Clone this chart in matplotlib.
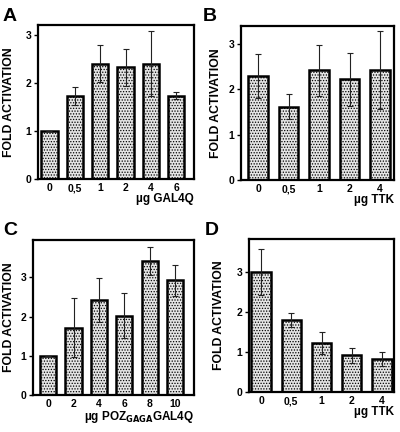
import matplotlib

matplotlib.use("Agg")
import matplotlib.pyplot as plt

plt.rcParams["font.family"] = ["Liberation Sans", "DejaVu Sans"]
plt.rcParams["font.weight"] = "bold"
plt.rcParams["hatch.color"] = "#6a6a6a"
plt.rcParams["hatch.linewidth"] = 0.6

# panel A
a_labels = ["0", "0,5", "1", "2", "4", "6"]
a_values = [1.0, 1.72, 2.4, 2.32, 2.4, 1.73]
a_errors = [0.0, 0.19, 0.38, 0.39, 0.68, 0.07]

# panel B
b_labels = ["0", "0,5", "1", "2", "4"]
b_values = [2.3, 1.62, 2.42, 2.22, 2.42]
b_errors = [0.48, 0.28, 0.57, 0.58, 0.86]

# panel C
c_labels = ["0", "2", "4", "6", "8", "10"]
c_values = [1.0, 1.72, 2.42, 2.02, 3.42, 2.92]
c_errors = [0.0, 0.76, 0.57, 0.57, 0.35, 0.4]

# panel D
d_labels = ["0", "0,5", "1", "2", "4"]
d_values = [3.0, 1.8, 1.22, 0.92, 0.82]
d_errors = [0.57, 0.17, 0.27, 0.19, 0.17]

W, H = 400, 432


def px_axes(fig, left, right, top, bottom):
    return fig.add_axes([left / W, 1 - bottom / H, (right - left) / W, (bottom - top) / H])


def draw_panel(fig, box, labels, values, errors, xlim, ylim, xlabel, letter, ylab_x, letter_xy):
    left, right, top, bottom = box
    ax = px_axes(fig, left, right, top, bottom)
    x = list(range(len(values)))
    ax.bar(x, values, width=0.64, color="#e4e4e4", edgecolor="black",
           linewidth=1.8, hatch="......", zorder=2)
    ax.errorbar(x, values, yerr=errors, fmt="none", ecolor="#222222",
                elinewidth=0.8, capsize=2.5, capthick=0.8, zorder=3)
    ax.set_xlim(*xlim)
    ax.set_ylim(*ylim)
    ax.set_xticks(x)
    ax.set_xticklabels(labels)
    ax.set_yticks([0, 1, 2, 3])
    ax.tick_params(axis="x", length=0, labelsize=7.5, pad=3)
    ax.tick_params(axis="y", length=3, width=1, labelsize=7.5, pad=2)
    for s in ax.spines.values():
        s.set_linewidth(1.6)
    ax.set_ylabel("FOLD ACTIVATION", fontsize=8.8, fontweight="bold")
    ax.yaxis.set_label_coords((ylab_x - left) / (right - left), 0.5)
    ax.text(1.0, -14 / (bottom - top), xlabel, transform=ax.transAxes, ha="right",
            va="top", fontsize=8.5, fontweight="bold")
    fig.text(letter_xy[0] / W, 1 - letter_xy[1] / H, letter, ha="left", va="top",
             fontsize=14, fontweight="bold")
    return ax


fig = plt.figure(figsize=(4, 4.32), dpi=100)

draw_panel(fig, (38, 194, 25, 179), a_labels, a_values, a_errors, (-0.45, 5.7), (0, 3.2),
           "µg GAL4Q", "A", 15, (3, 8))
draw_panel(fig, (241, 394, 26, 180), b_labels, b_values, b_errors, (-0.56, 4.46), (0, 3.4),
           "µg TTK", "B", 222, (203, 8))
draw_panel(fig, (33, 194, 240, 395), c_labels, c_values, c_errors, (-0.6, 5.75), (0, 3.95),
           r"µg POZ$_{\mathbf{GAGA}}$GAL4Q", "C", 15, (3, 222))
draw_panel(fig, (249, 394, 239, 392), d_labels, d_values, d_errors, (-0.4, 4.4), (0, 3.83),
           "µg TTK", "D", 225, (205, 222))

fig.savefig("out.png", dpi=100)
